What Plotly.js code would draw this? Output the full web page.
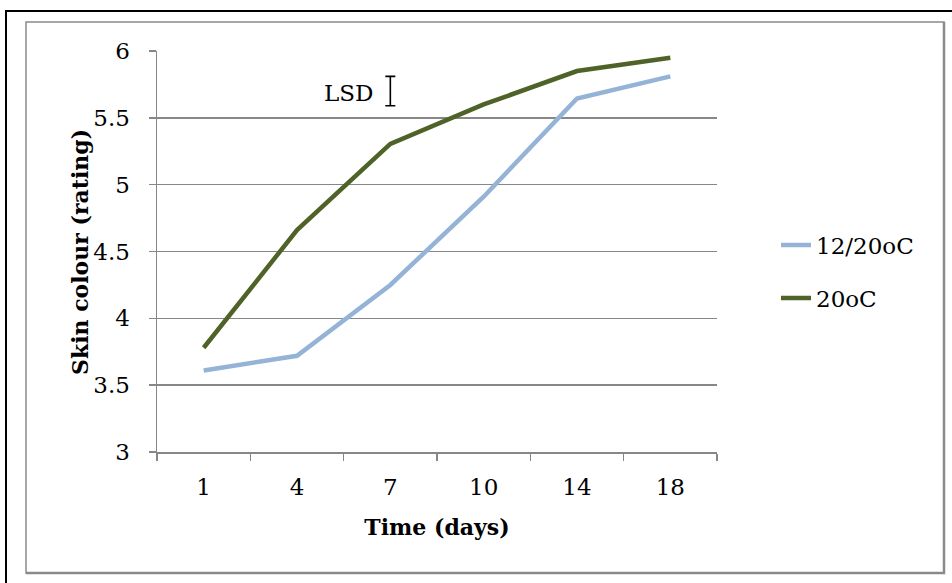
<!DOCTYPE html>
<html>
<head>
<meta charset="utf-8">
<script src="https://cdn.plot.ly/plotly-3.0.1.min.js"></script>
<style>
  html, body { margin: 0; padding: 0; background: #ffffff; }
  #chart { width: 952px; height: 583px; }
</style>
</head>
<body>
<div id="chart"></div>
<script>
// Storage days (category axis)
const days = ['1', '4', '7', '10', '14', '18'];

// Skin colour rating per storage regime
const series1Name = '12/20oC';
const series1Values = [3.61, 3.72, 4.25, 4.91, 5.645, 5.81];

const series2Name = '20oC';
const series2Values = [3.78, 4.66, 5.305, 5.60, 5.85, 5.95];

// Least significant difference bar
const lsdLabel = 'LSD';
const lsdDay = '7';
const lsdCentre = 5.70;
const lsdValue = 0.22;

// Y axis ticks
const yTicks = [3, 3.5, 4, 4.5, 5, 5.5, 6];

const xTitle = 'Time (days)';
const yTitle = 'Skin colour (rating)';

const FONT = 'DejaVu Serif';
const GRID = '#878787';

// plot-area geometry in pixels
const W = 952, H = 583;
const M = { l: 157, r: 235, t: 51, b: 131 };
const pw = W - M.l - M.r, ph = H - M.t - M.b;
const px = v => (v - M.l) / pw;
const py = v => (H - M.b - v) / ph;

const traces = [
  {
    x: days, y: series1Values, name: series1Name, type: 'scatter', mode: 'lines',
    line: { color: '#95B3D7', width: 4.5 }, legend: 'legend'
  },
  {
    x: days, y: series2Values, name: series2Name, type: 'scatter', mode: 'lines',
    line: { color: '#4F6228', width: 4.5 }, legend: 'legend2'
  },
  {
    x: [lsdDay], y: [lsdCentre], type: 'scatter', mode: 'markers',
    marker: { size: 1, opacity: 0 }, showlegend: false, hoverinfo: 'skip',
    error_y: { type: 'data', array: [lsdValue / 2], visible: true, color: '#000000', thickness: 1.6, width: 5 }
  }
];

const legendCommon = {
  xanchor: 'left', yanchor: 'middle', bgcolor: 'rgba(0,0,0,0)', borderwidth: 0,
  font: { family: FONT, size: 23, color: '#000000' }, itemwidth: 30
};

const layout = {
  width: W, height: H,
  margin: M,
  paper_bgcolor: '#ffffff', plot_bgcolor: '#ffffff',
  font: { family: FONT, size: 23, color: '#000000' },
  showlegend: true,
  legend: Object.assign({ x: px(776), y: py(245) }, legendCommon),
  legend2: Object.assign({ x: px(776), y: py(298) }, legendCommon),
  xaxis: {
    type: 'category', categoryorder: 'array', categoryarray: days,
    range: [-0.5, days.length - 0.5],
    tickson: 'boundaries', ticks: 'outside', ticklen: 7, tickwidth: 1.5, tickcolor: GRID,
    showline: true, linecolor: GRID, linewidth: 1.5, showgrid: false, zeroline: false,
    tickfont: { family: FONT, size: 23 }, ticklabelstandoff: 14,
    title: { text: xTitle, font: { family: FONT, size: 22, weight: 'bold' }, standoff: 20 },
    fixedrange: true
  },
  yaxis: {
    range: [3, 6], tickvals: yTicks, ticktext: yTicks.map(String),
    ticks: 'outside', ticklen: 7, tickwidth: 1.5, tickcolor: GRID,
    showline: true, linecolor: GRID, linewidth: 1.5,
    showgrid: true, gridcolor: GRID, gridwidth: 1.5, zeroline: false,
    tickfont: { family: FONT, size: 23 }, ticklabelstandoff: 14,
    fixedrange: true
  },
  annotations: [
    {
      // LSD label sits just left of the LSD bar
      x: days.indexOf(lsdDay), y: lsdCentre, xref: 'x', yref: 'y', text: lsdLabel, showarrow: false,
      xanchor: 'right', yanchor: 'middle', xshift: -15, yshift: -2,
      font: { family: FONT, size: 23, color: '#000000' }
    },
    {
      // vertical axis title
      x: px(80), y: py(252), xref: 'paper', yref: 'paper', text: '<b>' + yTitle + '</b>',
      showarrow: false, textangle: -90, xanchor: 'center', yanchor: 'middle',
      font: { family: FONT, size: 22, color: '#000000' }
    }
  ],
  shapes: [
    // outer black frame (left and top edges)
    {
      type: 'path', xref: 'paper', yref: 'paper',
      path: `M ${px(6)} ${py(600)} L ${px(6)} ${py(11)} L ${px(960)} ${py(11)}`,
      line: { color: '#000000', width: 2 }
    },
    // chart area border
    {
      type: 'rect', xref: 'paper', yref: 'paper',
      x0: px(26), x1: px(944), y0: py(573), y1: py(22),
      line: { color: '#8a8a8a', width: 1.5 }
    },
    // heavier bottom/right edge of the chart area border
    {
      type: 'path', xref: 'paper', yref: 'paper',
      path: `M ${px(26)} ${py(573)} L ${px(944)} ${py(573)} L ${px(944)} ${py(22)}`,
      line: { color: '#8a8a8a', width: 2.5 }
    }
  ]
};

Plotly.newPlot('chart', traces, layout, { displayModeBar: false, staticPlot: true });
</script>
</body>
</html>
